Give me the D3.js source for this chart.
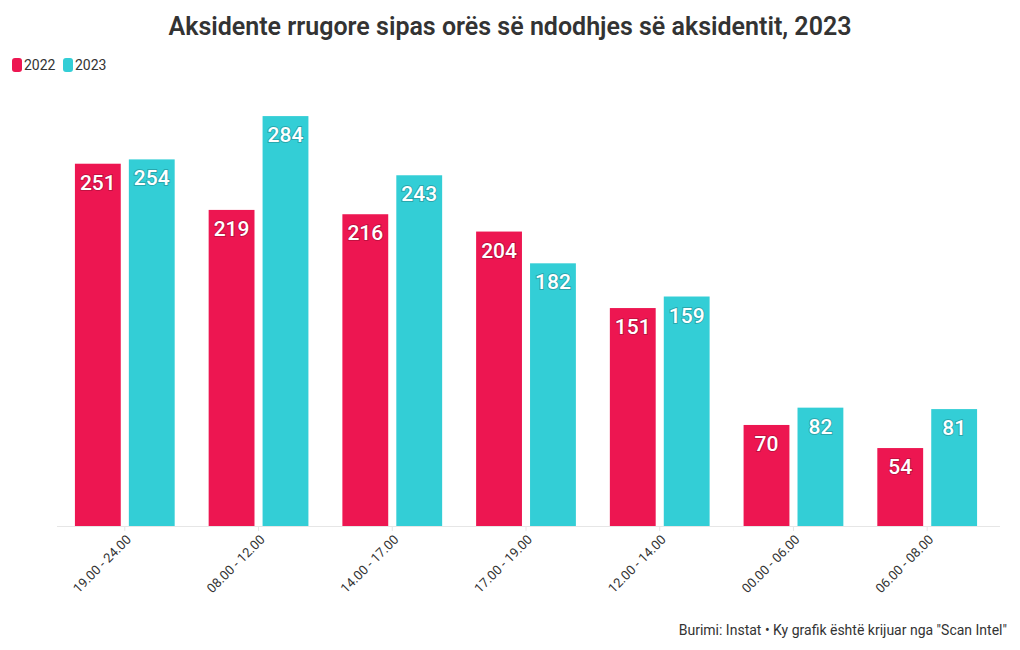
<!DOCTYPE html>
<html><head><meta charset="utf-8">
<script src="https://cdn.jsdelivr.net/npm/d3@7"></script>
<style>body{margin:0;background:#fff;} text{font-family:Roboto,"Noto Sans",sans-serif;}</style>
</head><body>
<svg id="c" width="1020" height="650"></svg>
<script>
const categories = ["19.00 - 24.00","08.00 - 12.00","14.00 - 17.00","17.00 - 19.00","12.00 - 14.00","00.00 - 06.00","06.00 - 08.00"];
const series2022 = [251,219,216,204,151,70,54];
const series2023 = [254,284,243,182,159,82,81];
const seriesNames = ["2022","2023"];
const colors = ["#ED1651","#33CED6"];

const svg = d3.select("#c");
const x0 = d3.scaleBand().domain(categories).range([57,995]).paddingInner(0.254).paddingOuter(0.134);
const x1 = d3.scaleBand().domain(seriesNames).range([0,x0.bandwidth()]).paddingInner(0.15).paddingOuter(0);
const y = d3.scaleLinear().domain([0,300]).range([526,93]);

svg.append("text").attr("x",510).attr("y",35).attr("text-anchor","middle")
  .attr("font-size",25).attr("font-weight",600).attr("fill","#333").text("Aksidente rrugore sipas orës së ndodhjes së aksidentit, 2023");

// legend
const lg = svg.append("g");
let lx=12;
seriesNames.forEach((s,i)=>{
  lg.append("rect").attr("x",lx).attr("y",58).attr("width",10).attr("height",14).attr("rx",3).attr("fill",colors[i]);
  lg.append("text").attr("x",lx+12).attr("y",70).attr("font-size",14).attr("fill","#333").text(s);
  lx += 51;
});

// axis
const xAxis = svg.append("g").attr("transform","translate(0,526)")
  .call(d3.axisBottom(x0).tickSize(5).tickSizeOuter(0));
xAxis.select(".domain").attr("stroke","#e6e6e6").attr("d","M57,0.5H1000");
xAxis.selectAll(".tick line").attr("stroke","#e6e6e6");
xAxis.selectAll(".tick text").attr("font-size",13).attr("fill","#333")
  .attr("text-anchor","end").attr("dx","-0.4em").attr("dy","0.55em")
  .attr("transform","rotate(-45)");

const data = categories.map((c,i)=>({c, vals:[series2022[i],series2023[i]]}));
const g = svg.append("g");
data.forEach(d=>{
  d.vals.forEach((v,j)=>{
    const bx = x0(d.c)+x1(seriesNames[j]);
    g.append("rect").attr("x",bx).attr("y",y(v)).attr("width",x1.bandwidth()).attr("height",526-y(v)).attr("fill",colors[j]);
    g.append("text").attr("x",bx+x1.bandwidth()/2).attr("y",y(v)+26).attr("text-anchor","middle")
      .attr("font-size",21).attr("font-weight",500).attr("fill","#fff")
      .attr("stroke","rgba(0,0,0,0.2)").attr("stroke-width",2).attr("paint-order","stroke")
      .text(v);
  });
});

svg.append("text").attr("x",1007).attr("y",635).attr("text-anchor","end").attr("font-size",14).attr("fill","#333")
  .text('Burimi: Instat • Ky grafik është krijuar nga "Scan Intel"');
</script>
</body></html>
